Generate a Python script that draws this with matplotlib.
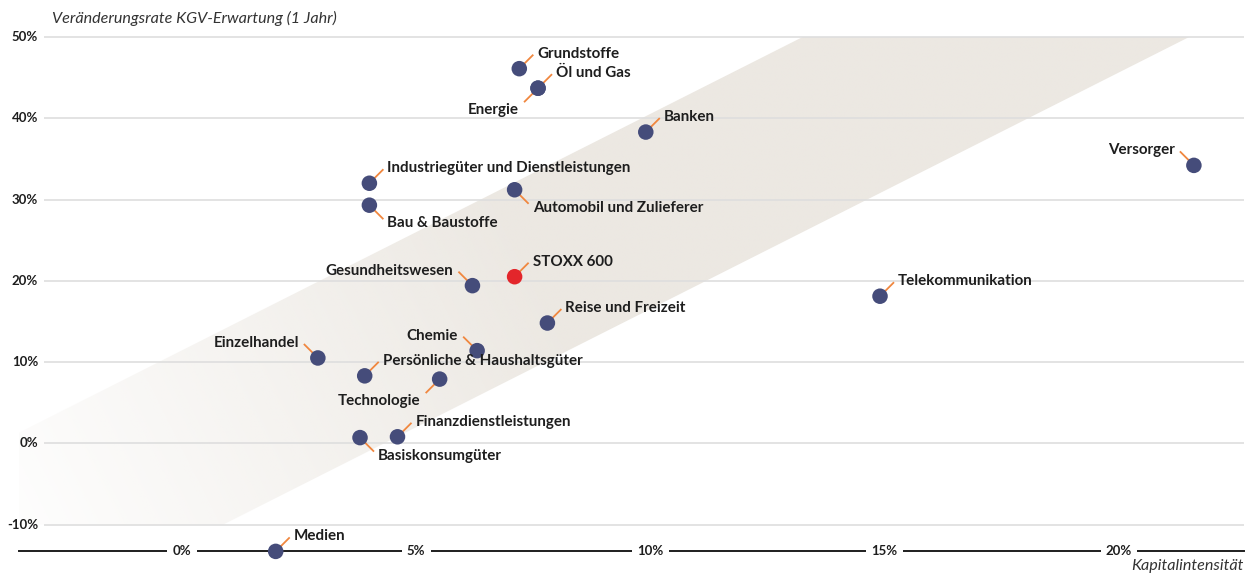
"""Sektoren: Kapitalintensität vs. Veränderungsrate der KGV-Erwartung."""

import matplotlib

matplotlib.use("Agg")
import matplotlib.pyplot as plt
import numpy as np
from matplotlib.patches import Polygon
from matplotlib.transforms import ScaledTranslation

# --- data ---------------------------------------------------------------
sectors = [
    "Grundstoffe", "Öl und Gas", "Energie", "Banken", "Versorger",
    "Industriegüter und Dienstleistungen", "Automobil und Zulieferer",
    "Bau & Baustoffe", "STOXX 600", "Gesundheitswesen", "Telekommunikation",
    "Reise und Freizeit", "Chemie", "Einzelhandel",
    "Persönliche & Haushaltsgüter", "Technologie", "Finanzdienstleistungen",
    "Basiskonsumgüter", "Medien",
]
capital_intensity = [7.2, 7.6, 7.6, 9.9, 21.6, 4.0, 7.1, 4.0, 7.1, 6.2, 14.9,
                     7.8, 6.3, 2.9, 3.9, 5.5, 4.6, 3.8, 2.0]
pe_change = [46.1, 43.7, 43.7, 38.3, 34.2, 32.0, 31.2, 29.3, 20.5, 19.4, 18.1,
             14.8, 11.4, 10.5, 8.3, 7.9, 0.8, 0.7, -13.3]
label_side = ["ur", "ur", "dl", "ur", "ul", "ur", "dr", "dr", "ur", "ul", "ur",
              "ur", "ul", "ul", "ur", "dl", "ur", "dr", "ur"]
highlight = "STOXX 600"

y_ticks = [-10, 0, 10, 20, 30, 40, 50]
x_ticks = [0, 5, 10, 15, 20]

# shaded corridor: two parallel edges crossing 50 % at these x values
BAND_TOP_LEFT, BAND_TOP_RIGHT, BAND_SLOPE = 13.25, 21.5, 2.91

NAVY = "#454c7a"
RED = "#e3262b"
ORANGE = "#f0873f"
INK = "#1e1e1e"
GRID = "#dedede"
BAND = np.array([236, 232, 226]) / 255

plt.rcParams["font.family"] = ["Lato", "DejaVu Sans"]

fig = plt.figure(figsize=(12.59, 5.73), dpi=100)
ax = fig.add_axes([0, 0, 1, 1])
ax.set_xlim(-3.885, 22.99)
ax.set_ylim(-15.96, 54.55)
ax.axis("off")

x_left, x_right = -3.48, 22.67
axis_y = -13.3

# --- band with fade towards the lower left -----------------------------
y_up_left = 50 + BAND_SLOPE * (x_left - BAND_TOP_LEFT)
x_low_bottom = BAND_TOP_RIGHT + (-10 - 50) / BAND_SLOPE
poly = Polygon([(BAND_TOP_LEFT, 50), (BAND_TOP_RIGHT, 50), (x_low_bottom, -10),
                (x_left, -10), (x_left, y_up_left)], closed=True,
               facecolor="none", edgecolor="none")
ax.add_patch(poly)
gx = np.linspace(x_left, BAND_TOP_RIGHT, 400)
gy = np.linspace(-10, 50, 300)
GX, GY = np.meshgrid(gx, gy)
s = (46.85 * GX + 0.505 * 8.126 * GY) / 1.12
alpha = np.clip((s + 220) / 620, 0, 1)
img = np.zeros(GX.shape + (4,))
img[..., :3] = BAND
img[..., 3] = alpha
im = ax.imshow(img, extent=(x_left, BAND_TOP_RIGHT, -10, 50), origin="lower",
               aspect="auto", interpolation="bilinear", zorder=0)
im.set_clip_path(poly)

# --- grid and axes ------------------------------------------------------
ax.hlines(y_ticks, -2.95, x_right, color=GRID, lw=1.2, zorder=1)
for t in y_ticks:
    ax.text(-3.07, t, f"{t}%", ha="right", va="center", fontsize=9.5,
            fontweight="bold", color=INK)
ax.plot([x_left, x_right], [axis_y, axis_y], color=INK, lw=1.4, zorder=2)
for t in x_ticks:
    ax.text(t, axis_y, f"{t}%", ha="center", va="center", fontsize=9.5,
            fontweight="bold", color=INK, zorder=3,
            bbox=dict(boxstyle="square,pad=0.4", fc="white", ec="none"))

ax.text(-2.77, 52.3, "Veränderungsrate KGV-Erwartung (1 Jahr)", ha="left",
        va="center", fontsize=11.6, style="italic", color="#333333")
ax.text(x_right, -15.1, "Kapitalintensität", ha="right", va="center",
        fontsize=11.6, style="italic", color="#333333")

# --- points and labels --------------------------------------------------
colors = [RED if n == highlight else NAVY for n in sectors]
ax.scatter(capital_intensity, pe_change, s=125, c=colors, zorder=5,
           edgecolors="none")

text_off = {"ur": (18, 15), "dr": (18, -18), "ul": (-19, 15), "dl": (-19, -22)}
for name, x, y, side in zip(sectors, capital_intensity, pe_change, label_side):
    sx = 1 if side[1] == "r" else -1
    sy = 1 if side[0] == "u" else -1
    trans = fig.dpi_scale_trans + ScaledTranslation(x, y, ax.transData)
    ax.plot([sx * 5 / 100, sx * 14 / 100], [sy * 5 / 100, sy * 14 / 100],
            color=ORANGE, lw=1.3, transform=trans, zorder=4,
            solid_capstyle="butt")
    dx, dy = text_off[side]
    ax.annotate(name, (x, y), xytext=(dx, dy), textcoords="offset pixels",
                ha="left" if sx > 0 else "right", va="center", fontsize=10.9,
                fontweight="bold", color=INK, zorder=6)

fig.savefig("out.png", dpi=100, facecolor="white")
